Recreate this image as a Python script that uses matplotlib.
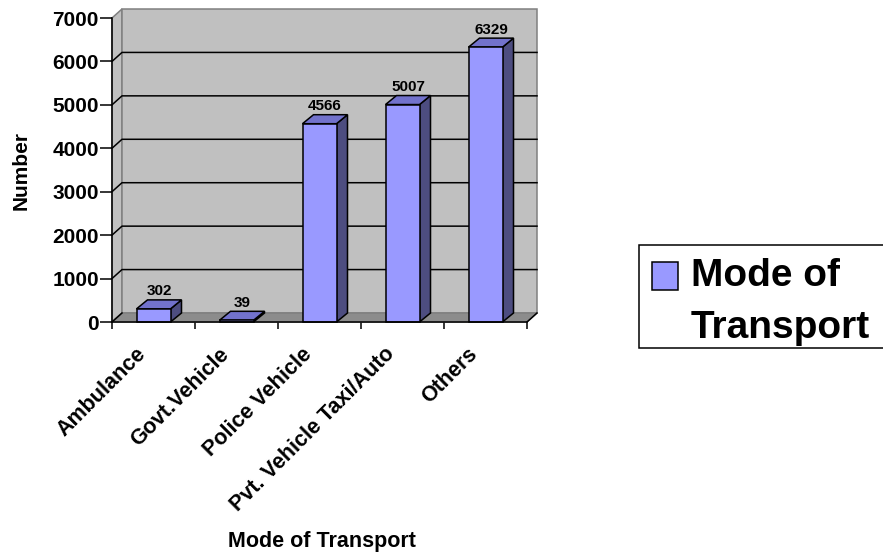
import matplotlib.pyplot as plt
import numpy as np
from matplotlib.patches import Polygon, Rectangle
from matplotlib.transforms import ScaledTranslation

# Data
categories = ['Ambulance', 'Govt.Vehicle', 'Police Vehicle', 'Pvt. Vehicle Taxi/Auto', 'Others']
counts = [302, 39, 4566, 5007, 6329]
y_ticks = [0, 1000, 2000, 3000, 4000, 5000, 6000, 7000]
series_name = 'Mode of Transport'

plt.rcParams['font.family'] = ['Liberation Sans', 'DejaVu Sans']
plt.rcParams['font.weight'] = 'bold'

W, H = 883, 553
fig = plt.figure(figsize=(W / 100, H / 100), dpi=100)

# front plane of the plot box, in pixels
left, right, bottom, top = 112, 527, 322, 18
ax = fig.add_axes([left / W, 1 - bottom / H, (right - left) / W, (bottom - top) / H])
n = len(categories)
ymax = y_ticks[-1]
ax.set_xlim(-0.5, n - 0.5)
ax.set_ylim(0, ymax)
ax.patch.set_visible(False)

# pseudo-3D depth offsets, converted to data units
ux = n / (right - left)
uy = ymax / (bottom - top)
wall_dx, wall_dy = 10 * ux, 9 * uy
bar_dx, bar_dy = 11 * ux, 9 * uy
bar_w = 34 * ux

x0, x1 = -0.5, n - 0.5
wall_grey = '#C0C0C0'
edge_grey = '#808080'

# side wall, back wall and floor
ax.add_patch(Polygon([(x0, 0), (x0 + wall_dx, wall_dy), (x0 + wall_dx, ymax + wall_dy), (x0, ymax)],
                     closed=True, fc=wall_grey, ec=edge_grey, lw=1.1, clip_on=False, zorder=1))
ax.add_patch(Polygon([(x0 + wall_dx, wall_dy), (x1 + wall_dx, wall_dy),
                      (x1 + wall_dx, ymax + wall_dy), (x0 + wall_dx, ymax + wall_dy)],
                     closed=True, fc=wall_grey, ec=edge_grey, lw=1.1, clip_on=False, zorder=1))
ax.add_patch(Polygon([(x0, 0), (x1, 0), (x1 + wall_dx, wall_dy), (x0 + wall_dx, wall_dy)],
                     closed=True, fc='#8C8C8C', ec=edge_grey, lw=1.1, clip_on=False, zorder=2))

# gridlines running over the side wall and across the back wall
for v in y_ticks[1:-1]:
    ax.plot([x0, x0 + wall_dx, x1 + wall_dx], [v, v + wall_dy, v + wall_dy],
            color='black', lw=1.1, clip_on=False, zorder=1.5)
ax.plot([x0, x0 + wall_dx], [0, wall_dy], color='black', lw=1.1, clip_on=False, zorder=3)
ax.plot([x1, x1 + wall_dx], [0, wall_dy], color='black', lw=1.1, clip_on=False, zorder=3)

# 3D-looking columns
for i, v in enumerate(counts):
    xl, xr = i - bar_w / 2, i + bar_w / 2
    side = Polygon([(xr, 0), (xr + bar_dx, bar_dy), (xr + bar_dx, v + bar_dy), (xr, v)],
                   closed=True, fc='#4D4D80', ec='black', lw=1.1, clip_on=False, zorder=4)
    cap = Polygon([(xl, v), (xr, v), (xr + bar_dx, v + bar_dy), (xl + bar_dx, v + bar_dy)],
                  closed=True, fc='#7272CC', ec='black', lw=1.1, clip_on=False, zorder=4)
    front = Polygon([(xl, 0), (xr, 0), (xr, v), (xl, v)],
                    closed=True, fc='#9999FF', ec='black', lw=1.1, clip_on=False, zorder=5)
    for p in (side, cap, front):
        ax.add_patch(p)
    ax.annotate(f'{v}', (i + bar_dx / 2, v + bar_dy), xytext=(0, 1), textcoords='offset points',
                ha='center', va='bottom', fontsize=11, fontweight='bold', zorder=6)

# axes, ticks and labels
for s in ('top', 'right'):
    ax.spines[s].set_visible(False)
for s in ('left', 'bottom'):
    ax.spines[s].set_linewidth(1.1)
    ax.spines[s].set_zorder(6)

ax.set_yticks(y_ticks)
ax.tick_params(axis='y', direction='out', length=8.5, width=1.1, pad=1, labelsize=15)

ax.set_xticks(np.arange(n + 1) - 0.5)
ax.set_xticklabels([])
ax.set_xticks(np.arange(n), minor=True)
ax.set_xticklabels(categories, minor=True, rotation=45, ha='right', va='center',
                   rotation_mode='anchor')
ax.tick_params(axis='x', which='major', direction='out', length=5, width=1.1)
ax.tick_params(axis='x', which='minor', length=0, pad=21, labelsize=15.5)
shift = ScaledTranslation(-11 / 100, 0, fig.dpi_scale_trans)
for lab in ax.get_xticklabels(minor=True):
    lab.set_transform(lab.get_transform() + shift)

ax.set_ylabel('Number', fontsize=15, fontweight='bold')
ax.yaxis.set_label_coords((31 - left) / (right - left), 0.5)
ax.set_xlabel(series_name, fontsize=15.5, fontweight='bold')
ax.xaxis.set_label_coords((322 - left) / (right - left), (bottom - 531) / (bottom - top))

# legend box, running off the right edge
fig.patches.append(Rectangle((639 / W, 1 - 348 / H), 1, (348 - 245) / H, transform=fig.transFigure,
                             fc='white', ec='black', lw=1.1))
fig.patches.append(Rectangle((652 / W, 1 - 290 / H), 26 / W, 28 / H, transform=fig.transFigure,
                             fc='#9999FF', ec='black', lw=1.1))
fig.text(691 / W, 1 - 286 / H, 'Mode of', fontsize=28, fontweight='bold', va='baseline', ha='left')
fig.text(691 / W, 1 - 338 / H, 'Transport', fontsize=28, fontweight='bold', va='baseline', ha='left')

fig.savefig('out.png', dpi=100)
